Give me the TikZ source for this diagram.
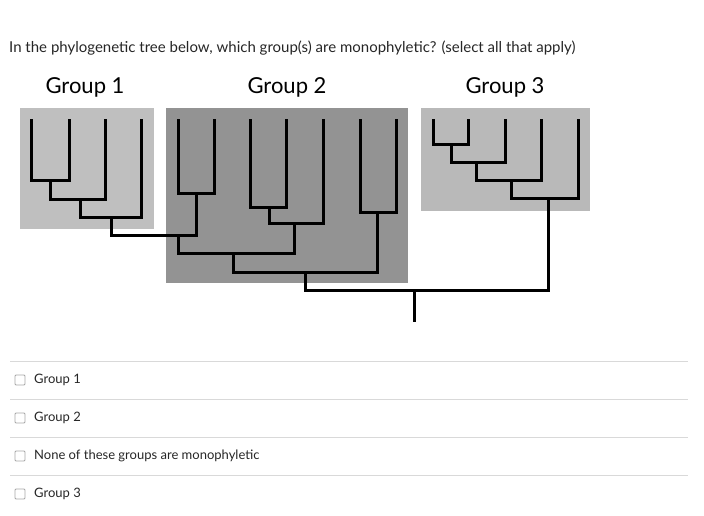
\documentclass[tikz,border=0pt]{standalone}
\usepackage{fontspec}
\setmainfont{Lato}
\begin{document}
\begin{tikzpicture}[x=1pt,y=-1pt]
    \tikzset{branch/.style={line width=3pt, line cap=rect},
             group/.style={draw=none, inner sep=0pt, anchor=north west},
             option/.style={anchor=west, inner sep=0pt, font=\fontsize{13}{15}\selectfont, text=black!85},
             box/.style={draw=gray!70, line width=0.8pt, rounded corners=1pt, minimum size=10pt, inner sep=0pt},
             sep/.style={draw=gray!30, line width=0.8pt}}
    \useasboundingbox (0,0) rectangle (704,516);
    \node[anchor=west, inner sep=0pt, font=\fontsize{15}{18}\selectfont, text=black!85] (question) at (9,48)
        {In the phylogenetic tree below, which group(s) are monophyletic? (select all that apply)};
    \node[font=\fontsize{22}{26}\selectfont] (g1label) at (85,87) {Group 1};
    \node[font=\fontsize{22}{26}\selectfont] (g2label) at (287,87) {Group 2};
    \node[font=\fontsize{22}{26}\selectfont] (g3label) at (505,87) {Group 3};
    % shaded groups
    \fill[gray!50] (20,108) rectangle (154,229);
    \fill[gray!85] (166,108) rectangle (408,283);
    \fill[gray!55] (421,108) rectangle (590,211);
    % group 1
    \draw[branch] (31.5,121) |- (69,180) -- (69,121);
    \draw[branch] (50,180) |- (105,199) -- (105,121);
    \draw[branch] (80.5,199) |- (141.5,217) -- (141.5,121);
    % group 2
    \draw[branch] (178,121) |- (214,193) -- (214,121);
    \draw[branch] (250,121) |- (286.5,207) -- (286.5,121);
    \draw[branch] (269,207) |- (323,223) -- (323,121);
    \draw[branch] (360,121) |- (396,212) -- (396,121);
    \draw[branch] (111.5,217) |- (196,235) -- (196,193);
    \draw[branch] (178,235) |- (294,253) -- (294,223);
    \draw[branch] (233,253) |- (377,272) -- (377,212);
    % group 3
    \draw[branch] (433,121) |- (468.5,145) -- (468.5,121);
    \draw[branch] (451,145) |- (505,162) -- (505,121);
    \draw[branch] (476,162) |- (541.5,180) -- (541.5,121);
    \draw[branch] (511,180) |- (578,198) -- (578,121);
    % root
    \draw[branch] (305,272) |- (548,290) -- (548,198);
    \draw[branch] (414.5,290) -- (414.5,320);
    % options
    \foreach \yy in {361,399,437,475}
        \draw[sep] (10,\yy) -- (688,\yy);
    \foreach \yy/\txt [count=\i] in {380/Group 1,418/Group 2,456/None of these groups are monophyletic,494/Group 3}{
        \node[box] (box\i) at (20,\yy) {};
        \node[option] (opt\i) at (34,\yy) {\txt};
    }
\end{tikzpicture}
\end{document}
